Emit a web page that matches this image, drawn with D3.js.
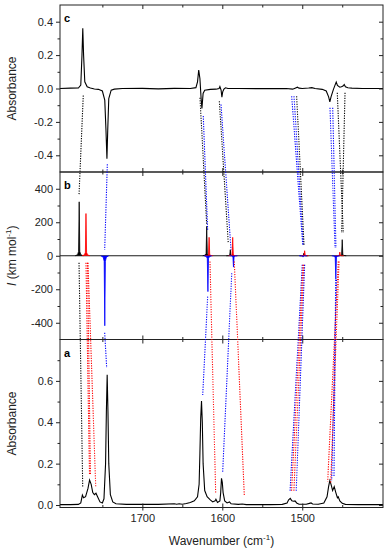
<!DOCTYPE html>
<html>
<head>
<meta charset="utf-8">
<script src="https://cdn.jsdelivr.net/npm/d3@7"></script>
<style>
body{margin:0;background:#fff;}
svg{display:block;font-family:"Liberation Sans",Arial,sans-serif;}
</style>
</head>
<body>
<svg id="chart" width="389" height="550"></svg>
<script>
// ---- data ----

// x axis (wavenumber, cm-1), reversed
const xRange = [1803, 1399];
const xTicks = [1700, 1600, 1500];
const xMinor = [1750, 1650, 1550, 1450];

// panel c : difference spectrum [wavenumber, absorbance]
const cRange = [-0.5, 0.5];
const cTicks = [-0.4, -0.2, 0, 0.2, 0.4];
const cMinor = [-0.3, -0.1, 0.1, 0.3];
const cSpectrum = [
    [1803,0],[1790,0.002],[1780,0.003],[1777,0.02],[1775.5,0.2],[1774.5,0.36],[1773.5,0.2],
    [1772,0.04],[1769,0.01],[1765,0.003],[1760,-0.003],[1755,-0.005],[1750,-0.015],[1747,-0.07],
    [1745.5,-0.25],[1744.3,-0.42],[1743.3,-0.25],[1742,-0.06],[1739,-0.01],[1735,-0.004],[1725,0],
    [1700,0.001],[1680,-0.002],[1660,0.001],[1640,0],[1633,0.005],[1631,0.04],[1629.5,0.11],
    [1628,0.06],[1626.5,-0.06],[1625.5,-0.12],[1624,-0.03],[1622,-0.01],[1615,-0.005],[1608,-0.004],
    [1604,0],[1603,0.012],[1601.5,-0.01],[1600.5,-0.052],[1599.5,-0.02],[1598,-0.004],[1596,0.004],
    [1593,0],[1580,0],[1550,-0.001],[1520,0],[1512,-0.004],[1509,0.002],[1506,0.008],[1504,0.002],
    [1500,0],[1492,0.003],[1488,0.005],[1484,0],[1475,-0.005],[1470,-0.015],[1467,-0.05],
    [1465.5,-0.08],[1464,-0.05],[1461,-0.005],[1459,0.02],[1457.5,0.038],[1456,0.018],[1453,0.008],
    [1451,0.01],[1449,0.015],[1447.5,0.024],[1446,0.01],[1443,0.004],[1438,0.002],[1425,0],[1399,0]
];

// panel b : calculated intensities [wavenumber, I (km/mol)]
const bRange = [-500, 500];
const bTicks = [-400, -200, 0, 200, 400];
const bMinor = [-300, -100, 100, 300];
const bBlack = [[1779,322],[1619.5,176],[1590,36],[1498,15],[1450,96]];
const bRed = [[1770.5,252],[1616.5,110],[1587,110],[1497,30],[1453,22]];
const bBlue = [[1747,-418],[1618,-214],[1586,-68],[1499,-8],[1458,-140]];

// panel a : measured spectrum [wavenumber, absorbance]
const aRange = [-0.012, 0.8];
const aTicks = [0, 0.2, 0.4, 0.6];
const aMinor = [0.1, 0.3, 0.5, 0.7];
const aSpectrum = [
    [1803,0.002],[1790,0.002],[1780,0.003],[1777,0.01],[1775,0.048],[1773.5,0.035],[1771,0.04],
    [1768,0.08],[1766,0.121],[1764,0.1],[1762,0.06],[1760,0.05],[1758,0.057],[1756,0.04],
    [1753,0.015],[1750,0.01],[1748,0.03],[1746,0.2],[1745,0.45],[1744,0.629],[1743,0.45],
    [1742,0.2],[1740,0.05],[1737,0.015],[1733,0.006],[1720,0.003],[1700,0.003],[1680,0.003],
    [1660,0.006],[1657,0.004],[1654,0.006],[1650,0.004],[1645,0.007],[1640,0.012],[1635,0.02],
    [1631,0.04],[1629,0.1],[1628,0.25],[1627,0.42],[1626,0.503],[1625,0.4],[1624,0.2],[1622,0.07],
    [1619,0.04],[1615,0.025],[1612,0.015],[1609,0.02],[1608,0.028],[1606,0.012],[1603,0.02],
    [1602,0.06],[1601,0.129],[1600,0.11],[1599,0.06],[1597,0.02],[1594,0.01],[1591,0.015],
    [1589,0.006],[1580,0.003],[1575,0.005],[1570,0.002],[1540,0.002],[1525,0.003],[1519,0.01],
    [1517,0.025],[1515,0.032],[1513,0.02],[1511,0.018],[1509,0.02],[1507,0.01],[1504,0.004],
    [1495,0.004],[1491,0.008],[1489,0.01],[1487,0.005],[1480,0.004],[1473,0.01],[1469,0.04],
    [1467,0.09],[1465.5,0.118],[1464,0.1],[1462,0.07],[1460,0.089],[1458,0.06],[1456,0.035],
    [1455,0.04],[1453,0.02],[1450,0.008],[1446,0.003],[1430,0.002],[1399,0.002]
];

// dotted band assignments: [fromPanel, wn, value, toPanel, wn, value, colour]
const links = [
    ["c",1773.9,-0.042,"b",1779.2,366,"k"],
    ["c",1743.8,-0.454,"b",1747.1,36,"b"],
    ["c",1627.9,-0.055,"b",1619.5,186,"k"],
    ["c",1623.8,-0.165,"b",1618.3,150,"b"],
    ["c",1603.7,-0.076,"b",1592.5,75,"k"],
    ["c",1601.6,-0.096,"b",1589.1,36,"b"],
    ["c",1513.2,-0.046,"b",1499.4,66,"b"],
    ["c",1510.3,-0.046,"b",1498.7,66,"b"],
    ["c",1507.0,-0.046,"b",1497.8,66,"k"],
    ["c",1465.3,-0.115,"b",1459.0,46,"b"],
    ["c",1461.9,-0.115,"b",1457.8,46,"b"],
    ["c",1456.2,-0.026,"b",1448.7,136,"k"],
    ["c",1446.5,-0.026,"b",1450.7,136,"k"],
    ["b",1779.2,-42,"a",1774.6,0.089,"k"],
    ["b",1770.5,-42,"a",1766.1,0.145,"r"],
    ["b",1768.6,-42,"a",1764.9,0.145,"r"],
    ["b",1768.0,-42,"a",1758.3,0.089,"r"],
    ["b",1747.1,-460,"a",1744.6,0.663,"b"],
    ["b",1618.3,-244,"a",1624.5,0.532,"b"],
    ["b",1615.4,-34,"a",1608.3,0.057,"r"],
    ["b",1588.2,-104,"a",1599.5,0.161,"b"],
    ["b",1585.0,-34,"a",1572.5,0.048,"r"],
    ["b",1500.0,-54,"a",1515.3,0.064,"b"],
    ["b",1499.0,-54,"a",1513.4,0.064,"r"],
    ["b",1498.0,-54,"a",1510.5,0.064,"r"],
    ["b",1497.0,-54,"a",1507.6,0.064,"b"],
    ["b",1458.2,-144,"a",1460.3,0.137,"b"],
    ["b",1457.2,-144,"a",1463.2,0.12,"b"],
    ["b",1455.0,-34,"a",1468.2,0.113,"r"],
    ["b",1454.0,-34,"a",1464.4,0.105,"r"]
];

// ---- layout ----
const svg = d3.select("#chart");
const left = 60, right = 383;

const x = d3.scaleLinear().domain(xRange).range([left, right]);

const panels = [
    {name:"c", top:5, bottom:172, range:cRange, ticks:cTicks, minor:cMinor, fmt:d3.format(".1f")},
    {name:"b", top:172, bottom:339.5, range:bRange, ticks:bTicks, minor:bMinor, fmt:d3.format("d")},
    {name:"a", top:339.5, bottom:507.5, range:aRange, ticks:aTicks, minor:aMinor, fmt:d3.format(".1f")}
];
const yScale = {};
for(let p of panels){
    yScale[p.name] = d3.scaleLinear().domain(p.range).range([p.bottom, p.top]);
}

const colour = d3.scaleOrdinal().domain(["k","r","b"]).range(["#000000","#ff0000","#0000ff"]);

/**
 * Draws a set of ticks (axis helper), removes the domain path
 */
function drawAxis(g, axis){
    g.call(axis);
    g.select(".domain").remove();
    g.selectAll(".tick line").attr("stroke","#222").attr("stroke-width",1);
    g.selectAll(".tick text").attr("fill","#222").style("font-size","11px")
        .text(function(){ return d3.select(this).text().replace("\u2212","-"); });
}

// clip paths, one per panel
const defs = svg.append("defs");
for(let p of panels){
    defs.append("clipPath").attr("id","clip-"+p.name)
        .append("rect").attr("x",left).attr("y",p.top)
        .attr("width",right-left).attr("height",p.bottom-p.top);
}

// zero line in panel b
svg.append("line")
    .attr("x1",left).attr("x2",right)
    .attr("y1",yScale.b(0)).attr("y2",yScale.b(0))
    .attr("stroke","#000").attr("stroke-width",0.9);

// spectra (panels c and a)
const line = d3.line().x(d=>x(d[0]));
function drawSpectrum(name, data){
    let y = yScale[name];
    svg.append("path")
        .attr("clip-path","url(#clip-"+name+")")
        .attr("d", line.y(d=>y(d[1]))(data))
        .attr("fill","none")
        .attr("stroke","#000")
        .attr("stroke-width",1.1);
}
drawSpectrum("c", cSpectrum);
drawSpectrum("a", aSpectrum);

// calculated bands in panel b, each drawn as a narrow peak (offsets in px, fraction of height)
const peakShape = [[-4,0],[-1.6,0.02],[-0.6,0.08],[0,1],[0.6,0.08],[1.6,0.02],[4,0]];
function drawBands(data, key){
    let y = yScale.b;
    svg.append("g").attr("clip-path","url(#clip-b)")
        .selectAll("path").data(data).join("path")
        .attr("d", d => d3.line()(peakShape.map(s => [x(d[0]) + s[0], y(d[1]*s[1])])))
        .attr("fill", colour(key))
        .attr("stroke", colour(key))
        .attr("stroke-width",0.8)
        .attr("stroke-linejoin","round");
}
drawBands(bBlack,"k");
drawBands(bRed,"r");
drawBands(bBlue,"b");

// axes for each panel
for(let p of panels){
    let y = yScale[p.name];
    // left: labelled ticks outward + minor
    drawAxis(svg.append("g").attr("transform",`translate(${left},0)`),
        d3.axisLeft(y).tickValues(p.ticks).tickSize(4).tickPadding(3).tickFormat(p.fmt));
    drawAxis(svg.append("g").attr("transform",`translate(${left},0)`),
        d3.axisLeft(y).tickValues(p.minor).tickSize(2.5).tickFormat(""));
    // right: inward ticks
    drawAxis(svg.append("g").attr("transform",`translate(${right},0)`),
        d3.axisRight(y).tickValues(p.ticks).tickSize(-4).tickFormat(""));
    drawAxis(svg.append("g").attr("transform",`translate(${right},0)`),
        d3.axisRight(y).tickValues(p.minor).tickSize(-2.5).tickFormat(""));
    // top and bottom: inward ticks
    drawAxis(svg.append("g").attr("transform",`translate(0,${p.top})`),
        d3.axisTop(x).tickValues(xTicks).tickSize(-4).tickFormat(""));
    drawAxis(svg.append("g").attr("transform",`translate(0,${p.top})`),
        d3.axisTop(x).tickValues(xMinor).tickSize(-2.5).tickFormat(""));
    drawAxis(svg.append("g").attr("transform",`translate(0,${p.bottom})`),
        d3.axisBottom(x).tickValues(xTicks).tickSize(-4).tickFormat(""));
    drawAxis(svg.append("g").attr("transform",`translate(0,${p.bottom})`),
        d3.axisBottom(x).tickValues(xMinor).tickSize(-2.5).tickFormat(""));

    // frame
    svg.append("rect")
        .attr("x",left).attr("y",p.top)
        .attr("width",right-left).attr("height",p.bottom-p.top)
        .attr("fill","none").attr("stroke","#222").attr("stroke-width",1);

    // panel letter
    svg.append("text")
        .attr("x",left+4).attr("y",p.top+17)
        .style("font-size","11px").style("font-weight","bold")
        .text(p.name);
}

// bottom x axis labels
drawAxis(svg.append("g").attr("transform",`translate(0,${panels[2].bottom})`),
    d3.axisBottom(x).tickValues(xTicks).tickSize(3).tickPadding(4).tickFormat(d3.format("d")));

// dotted assignment lines, drawn on top across the panels
svg.append("g").selectAll("line").data(links).join("line")
    .attr("x1", d => x(d[1])).attr("y1", d => yScale[d[0]](d[2]))
    .attr("x2", d => x(d[4])).attr("y2", d => yScale[d[3]](d[5]))
    .attr("stroke", d => colour(d[6]))
    .attr("stroke-width",1.1)
    .attr("stroke-dasharray","1.2,1.3");

// axis titles
function yTitle(cy){
    return svg.append("text")
        .attr("transform",`translate(16,${cy}) rotate(-90)`)
        .attr("text-anchor","middle")
        .style("font-size","12px")
        .attr("fill","#222");
}
yTitle((panels[0].top+panels[0].bottom)/2).text("Absorbance");
yTitle((panels[2].top+panels[2].bottom)/2).text("Absorbance");

let bt = yTitle((panels[1].top+panels[1].bottom)/2);
bt.append("tspan").style("font-style","italic").text("I");
bt.append("tspan").text(" (km mol");
bt.append("tspan").attr("dy",-5).style("font-size","8px").text("-1");
bt.append("tspan").attr("dy",5).text(")");

let xt = svg.append("text")
    .attr("x",(left+right)/2).attr("y",545)
    .attr("text-anchor","middle")
    .style("font-size","12px")
    .attr("fill","#222");
xt.append("tspan").text("Wavenumber (cm");
xt.append("tspan").attr("dy",-5).style("font-size","8px").text("-1");
xt.append("tspan").attr("dy",5).text(")");
</script>
</body>
</html>
